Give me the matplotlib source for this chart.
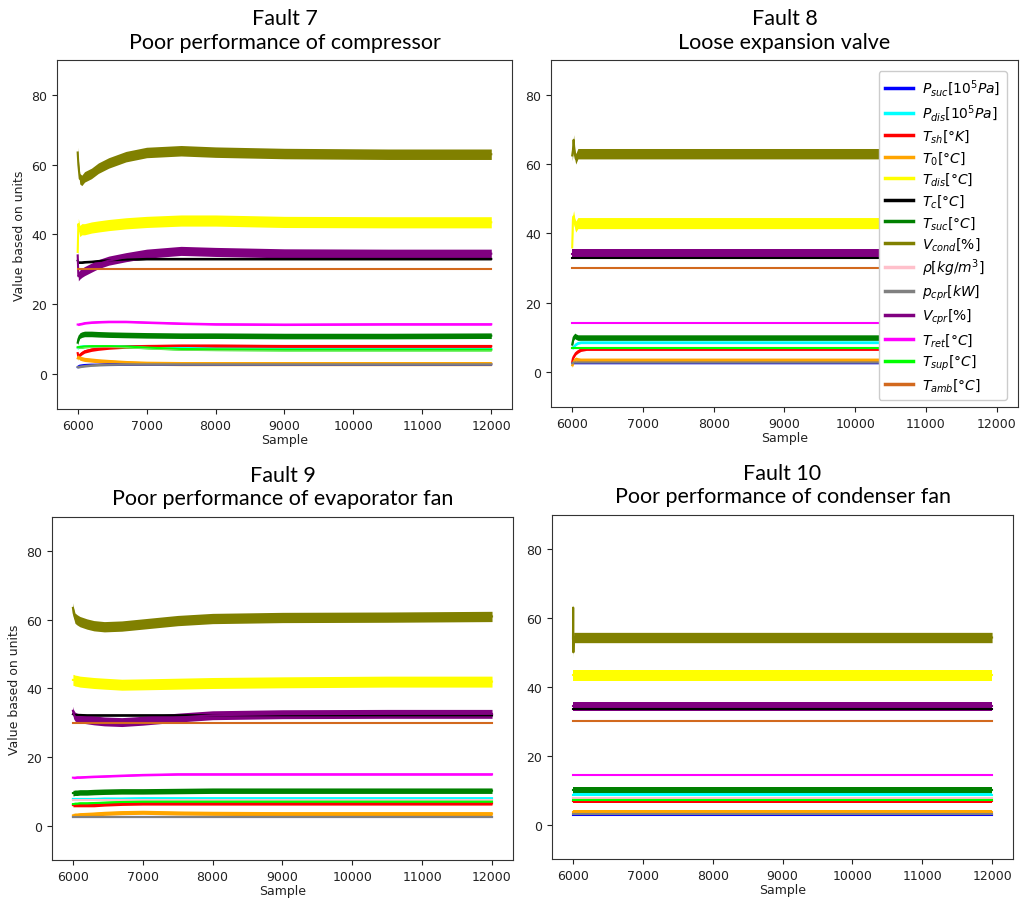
import numpy as np
import matplotlib
matplotlib.use('Agg')
import matplotlib.pyplot as plt

# series in plotting / legend order
labels = [r'$P_{suc}[10^5Pa]$', r'$P_{dis}[10^5Pa]$', r'$T_{sh}[°K]$', r'$T_0[°C]$',
          r'$T_{dis}[°C]$', r'$T_c[°C]$', r'$T_{suc}[°C]$', r'$V_{cond}[\%]$',
          r'$\rho[kg/m^3]$', r'$p_{cpr}[kW]$', r'$V_{cpr}[\%]$', r'$T_{ret}[°C]$',
          r'$T_{sup}[°C]$', r'$T_{amb}[°C]$']
colors = ['blue', 'cyan', 'red', 'orange', 'yellow', 'black', 'green', 'olive',
          'pink', 'gray', 'purple', 'magenta', 'lime', 'chocolate']
# approximate half width of the noise band of each series
noise = [0.25, 0.35, 0.5, 0.6, 1.6, 0.3, 0.8, 1.5, 0.25, 0.3, 1.3, 0.3, 0.4, 0.15]

titles = ['Fault 7\nPoor performance of compressor',
          'Fault 8\nLoose expansion valve',
          'Fault 9\nPoor performance of evaporator fan',
          'Fault 10\nPoor performance of condenser fan']

# ---- Fault 7 ----
x7 = [6000, 6010, 6030, 6060, 6100, 6200, 6300, 6450, 6700, 7000, 7500, 8000, 9000, 10500, 12000]
f7_psuc = [2.0, 2.2, 2.4, 2.5, 2.6, 2.7, 2.7, 2.8, 2.8, 2.8, 2.8, 2.8, 2.8, 2.8, 2.8]
f7_pdis = [7.5, 7.6, 7.8, 7.9, 8.0, 8.0, 8.0, 8.0, 8.0, 7.8, 7.5, 7.3, 7.2, 7.2, 7.2]
f7_tsh = [6.0, 5.0, 5.5, 6.0, 6.5, 7.0, 7.3, 7.6, 7.9, 8.0, 8.1, 8.1, 8.0, 8.0, 8.0]
f7_t0 = [4.5, 5.0, 4.6, 4.4, 4.2, 4.0, 3.8, 3.6, 3.3, 3.1, 3.0, 3.0, 3.0, 3.0, 3.0]
f7_tdis = [35.0, 43.0, 41.0, 41.5, 41.5, 42.0, 42.3, 42.7, 43.2, 43.6, 44.0, 44.0, 43.6, 43.5, 43.5]
f7_tc = [32.5, 32.0, 32.0, 32.0, 32.1, 32.2, 32.4, 32.6, 32.8, 33.0, 33.0, 33.0, 33.0, 33.0, 33.0]
f7_tsuc = [9.0, 10.0, 11.0, 11.3, 11.5, 11.5, 11.4, 11.3, 11.2, 11.1, 11.0, 11.0, 10.9, 10.9, 11.0]
f7_vcond = [63.5, 60.0, 56.0, 55.5, 56.5, 57.5, 59.0, 60.5, 62.3, 63.5, 64.0, 63.6, 63.2, 63.0, 63.0]
f7_rho = [7.6, 7.6, 7.7, 7.7, 7.8, 7.9, 7.9, 7.9, 7.8, 7.5, 7.1, 7.0, 6.9, 6.9, 6.9]
f7_pcpr = [2.0, 2.0, 2.1, 2.2, 2.3, 2.5, 2.6, 2.7, 2.8, 2.8, 2.8, 2.8, 2.8, 2.8, 2.8]
f7_vcpr = [34.0, 28.0, 28.5, 29.0, 29.5, 30.5, 31.5, 32.5, 33.5, 34.5, 35.3, 35.0, 34.6, 34.5, 34.5]
f7_tret = [14.2, 14.2, 14.3, 14.4, 14.6, 14.8, 14.9, 15.0, 15.0, 14.8, 14.5, 14.3, 14.2, 14.3, 14.3]
f7_tsup = [7.7, 7.7, 7.8, 7.8, 7.9, 8.0, 8.0, 8.0, 7.9, 7.6, 7.2, 7.1, 7.0, 7.0, 7.0]
f7_tamb = [30.0, 30.0, 30.0, 30.0, 30.0, 30.0, 30.0, 30.0, 30.0, 30.0, 30.0, 30.0, 30.0, 30.0, 30.0]

# ---- Fault 8 ----
x8 = [6000, 6010, 6020, 6035, 6050, 6080, 6120, 6200, 12000]
f8_psuc = [2.6, 2.6, 2.7, 2.7, 2.7, 2.7, 2.7, 2.7, 2.7]
f8_pdis = [7.0, 7.0, 7.3, 7.6, 8.0, 8.4, 8.6, 8.6, 8.6]
f8_tsh = [3.0, 4.0, 4.5, 5.0, 5.5, 6.0, 6.5, 6.8, 6.8]
f8_t0 = [2.0, 2.5, 3.0, 3.5, 3.8, 3.6, 3.5, 3.5, 3.5]
f8_tdis = [36.0, 44.0, 45.0, 43.0, 42.0, 43.0, 43.0, 43.0, 43.0]
f8_tc = [33.0, 33.0, 33.0, 33.0, 33.0, 33.0, 33.0, 33.0, 33.0]
f8_tsuc = [8.0, 9.0, 10.0, 10.5, 10.3, 10.0, 10.0, 10.0, 10.0]
f8_vcond = [62.5, 64.0, 67.0, 63.0, 61.5, 63.0, 63.0, 63.0, 63.0]
f8_rho = [7.0, 7.0, 7.0, 7.0, 7.0, 7.0, 7.0, 7.0, 7.0]
f8_pcpr = [2.6, 2.7, 2.8, 2.8, 2.8, 2.8, 2.8, 2.8, 2.8]
f8_vcpr = [34.2, 34.2, 34.2, 34.2, 34.2, 34.2, 34.2, 34.2, 34.2]
f8_tret = [14.3, 14.3, 14.3, 14.3, 14.3, 14.3, 14.3, 14.3, 14.3]
f8_tsup = [7.0, 7.0, 7.0, 7.0, 7.0, 7.0, 7.0, 7.0, 7.0]
f8_tamb = [30.0, 30.0, 30.0, 30.0, 30.0, 30.0, 30.0, 30.0, 30.0]

# ---- Fault 9 ----
x9 = [6000, 6010, 6030, 6060, 6100, 6200, 6300, 6450, 6700, 7000, 7500, 8000, 9000, 10500, 12000]
f9_psuc = [2.5, 2.5, 2.5, 2.5, 2.5, 2.5, 2.5, 2.5, 2.5, 2.5, 2.5, 2.5, 2.5, 2.5, 2.5]
f9_pdis = [7.8, 7.8, 7.8, 7.8, 7.8, 7.8, 7.8, 7.9, 7.9, 8.0, 8.0, 8.0, 8.0, 8.0, 8.0]
f9_tsh = [6.0, 6.0, 6.0, 6.0, 6.0, 6.0, 6.0, 6.2, 6.4, 6.5, 6.5, 6.5, 6.5, 6.5, 6.5]
f9_t0 = [3.0, 3.0, 3.1, 3.1, 3.2, 3.3, 3.4, 3.6, 3.8, 3.9, 3.7, 3.6, 3.5, 3.5, 3.5]
f9_tdis = [42.5, 42.5, 42.3, 42.2, 42.0, 41.8, 41.6, 41.4, 41.1, 41.2, 41.4, 41.6, 41.8, 42.0, 42.0]
f9_tc = [32.5, 32.4, 32.3, 32.3, 32.3, 32.2, 32.2, 32.2, 32.2, 32.2, 32.2, 32.2, 32.2, 32.2, 32.2]
f9_tsuc = [9.5, 9.5, 9.6, 9.6, 9.7, 9.7, 9.8, 9.9, 10.0, 10.0, 10.1, 10.2, 10.2, 10.2, 10.2]
f9_vcond = [63.5, 62.0, 60.5, 60.0, 59.5, 58.8, 58.3, 58.0, 58.2, 58.8, 59.8, 60.4, 60.7, 60.8, 61.0]
f9_rho = [7.5, 7.5, 7.5, 7.5, 7.5, 7.5, 7.5, 7.5, 7.5, 7.5, 7.5, 7.5, 7.5, 7.5, 7.5]
f9_pcpr = [2.5, 2.5, 2.5, 2.5, 2.5, 2.5, 2.5, 2.5, 2.5, 2.5, 2.5, 2.5, 2.5, 2.5, 2.5]
f9_vcpr = [33.5, 32.5, 31.8, 31.5, 31.3, 31.0, 30.7, 30.4, 30.2, 30.6, 31.5, 32.2, 32.5, 32.6, 32.6]
f9_tret = [14.0, 14.0, 14.0, 14.1, 14.1, 14.2, 14.3, 14.4, 14.6, 14.8, 15.0, 15.0, 15.0, 15.0, 15.0]
f9_tsup = [6.3, 6.3, 6.4, 6.4, 6.5, 6.5, 6.6, 6.7, 6.9, 7.0, 7.0, 7.0, 7.0, 7.0, 7.0]
f9_tamb = [30.0, 30.0, 30.0, 30.0, 30.0, 30.0, 30.0, 30.0, 30.0, 30.0, 30.0, 30.0, 30.0, 30.0, 30.0]

# ---- Fault 10 ----
x10 = [6000, 6003, 6006, 6010, 6050, 12000]
f10_psuc = [2.9, 2.9, 2.9, 2.9, 2.9, 2.9]
f10_pdis = [8.7, 8.7, 8.7, 8.7, 8.7, 8.7]
f10_tsh = [6.8, 6.8, 6.8, 6.8, 6.8, 6.8]
f10_t0 = [3.6, 3.6, 3.6, 3.6, 3.6, 3.6]
f10_tdis = [43.3, 43.3, 43.3, 43.3, 43.3, 43.3]
f10_tc = [33.4, 33.4, 33.4, 33.4, 33.4, 33.4]
f10_tsuc = [10.0, 10.0, 10.0, 10.0, 10.0, 10.0]
f10_vcond = [54.0, 63.0, 50.0, 54.3, 54.3, 54.3]
f10_rho = [7.8, 7.8, 7.8, 7.8, 7.8, 7.8]
f10_pcpr = [3.0, 3.0, 3.0, 3.0, 3.0, 3.0]
f10_vcpr = [34.3, 34.3, 34.3, 34.3, 34.3, 34.3]
f10_tret = [14.3, 14.3, 14.3, 14.3, 14.3, 14.3]
f10_tsup = [7.2, 7.2, 7.2, 7.2, 7.2, 7.2]
f10_tamb = [30.0, 30.0, 30.0, 30.0, 30.0, 30.0]

panels = [
    (x7, [f7_psuc, f7_pdis, f7_tsh, f7_t0, f7_tdis, f7_tc, f7_tsuc, f7_vcond,
          f7_rho, f7_pcpr, f7_vcpr, f7_tret, f7_tsup, f7_tamb]),
    (x8, [f8_psuc, f8_pdis, f8_tsh, f8_t0, f8_tdis, f8_tc, f8_tsuc, f8_vcond,
          f8_rho, f8_pcpr, f8_vcpr, f8_tret, f8_tsup, f8_tamb]),
    (x9, [f9_psuc, f9_pdis, f9_tsh, f9_t0, f9_tdis, f9_tc, f9_tsuc, f9_vcond,
          f9_rho, f9_pcpr, f9_vcpr, f9_tret, f9_tsup, f9_tamb]),
    (x10, [f10_psuc, f10_pdis, f10_tsh, f10_t0, f10_tdis, f10_tc, f10_tsuc, f10_vcond,
           f10_rho, f10_pcpr, f10_vcpr, f10_tret, f10_tsup, f10_tamb]),
]

# axes rectangles in figure fraction [left, bottom, width, height]
rects = [[0.0555, 0.5465, 0.443, 0.386],
         [0.5365, 0.5487, 0.4547, 0.3838],
         [0.0506, 0.0476, 0.4489, 0.3794],
         [0.5375, 0.0487, 0.4489, 0.3810]]

fig = plt.figure(figsize=(10.27, 9.04), dpi=100)

for i in range(4):
    ax = fig.add_axes(rects[i])
    x, series = panels[i]
    for y, lab, c, hw in zip(series, labels, colors, noise):
        y = np.array(y)
        ax.fill_between(x, y - hw, y + hw, color=c, lw=0)
        ax.plot(x, y, color=c, lw=1.5, label=lab)
    ax.set_ylim(-10, 90)
    ax.set_xticks([6000, 7000, 8000, 9000, 10000, 11000, 12000])
    ax.set_yticks([0, 20, 40, 60, 80])
    ax.tick_params(labelsize=9, colors='#222222')
    for s in ax.spines.values():
        s.set_color('#333333')
    ax.set_xlabel('Sample', fontsize=9, labelpad=1, color='#222222')
    if i in (0, 2):
        ax.set_ylabel('Value based on units', fontsize=9, color='#222222')
    ax.set_title(titles[i], fontsize=15.5, family='Lato', linespacing=1.2, pad=9)
    if i == 1:
        leg = ax.legend(loc='upper right', fontsize=10, borderaxespad=0.8,
                        handlelength=2.0, handletextpad=0.7, labelspacing=0.34,
                        borderpad=0.45, framealpha=1)
        for ln in leg.get_lines():
            ln.set_linewidth(2.5)

fig.savefig('out.png', dpi=100)
